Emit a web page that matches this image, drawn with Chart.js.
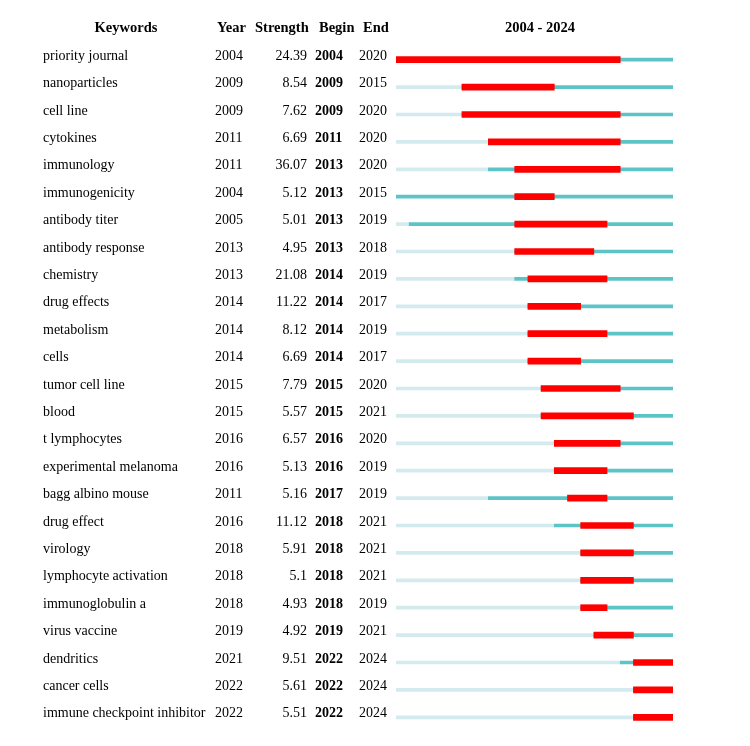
<!DOCTYPE html>
<html>
<head>
<meta charset="utf-8">
<script src="https://cdn.jsdelivr.net/npm/chart.js"></script>
<style>
  html, body { margin: 0; padding: 0; background: #fff; }
  #wrap { width: 750px; height: 746px; position: relative; }
</style>
</head>
<body>
<div id="wrap"><canvas id="Chart"></canvas></div>
<script>
// keyword burst table
var keywords = ["priority journal", "nanoparticles", "cell line", "cytokines", "immunology",
    "immunogenicity", "antibody titer", "antibody response", "chemistry", "drug effects",
    "metabolism", "cells", "tumor cell line", "blood", "t lymphocytes", "experimental melanoma",
    "bagg albino mouse", "drug effect", "virology", "lymphocyte activation", "immunoglobulin a",
    "virus vaccine", "dendritics", "cancer cells", "immune checkpoint inhibitor"];
var years = [2004, 2009, 2009, 2011, 2011, 2004, 2005, 2013, 2013, 2014, 2014, 2014, 2015,
    2015, 2016, 2016, 2011, 2016, 2018, 2018, 2018, 2019, 2021, 2022, 2022];
var strengths = [24.39, 8.54, 7.62, 6.69, 36.07, 5.12, 5.01, 4.95, 21.08, 11.22, 8.12, 6.69,
    7.79, 5.57, 6.57, 5.13, 5.16, 11.12, 5.91, 5.1, 4.93, 4.92, 9.51, 5.61, 5.51];
var begins = [2004, 2009, 2009, 2011, 2013, 2013, 2013, 2013, 2014, 2014, 2014, 2014, 2015,
    2015, 2016, 2016, 2017, 2018, 2018, 2018, 2018, 2019, 2022, 2022, 2022];
var ends = [2020, 2015, 2020, 2020, 2020, 2015, 2019, 2018, 2019, 2017, 2019, 2017, 2020,
    2021, 2020, 2019, 2019, 2021, 2021, 2021, 2019, 2021, 2024, 2024, 2024];
var firstYear = 2004;
var lastYear = 2024;

var serif = "'Liberation Serif', 'Times New Roman', serif";

// left columns drawn next to each bar row
var tablePlugin = {
    id: 'table',
    afterDraw: function (chart) {
        var ctx = chart.ctx;
        var y = chart.scales.y;
        ctx.save();
        ctx.fillStyle = '#000';
        ctx.textBaseline = 'alphabetic';

        ctx.font = 'bold 14.5px ' + serif;
        ctx.textAlign = 'center';
        ctx.fillText('Keywords', 126, 32);
        ctx.fillText(firstYear + ' - ' + lastYear, 540, 32);
        ctx.textAlign = 'left';
        ctx.fillText('Year', 217, 32);
        ctx.fillText('Strength', 255, 32);
        ctx.fillText('Begin', 319, 32);
        ctx.fillText('End', 363, 32);

        for (var i = 0; i < keywords.length; i++) {
            var py = y.getPixelForValue(i);
            ctx.font = '14px ' + serif;
            ctx.textAlign = 'left';
            ctx.fillText(keywords[i], 43, py);
            ctx.fillText(String(years[i]), 215, py);
            ctx.fillText(String(ends[i]), 359, py);
            ctx.textAlign = 'right';
            ctx.fillText(String(strengths[i]), 307, py);
            ctx.font = 'bold 14px ' + serif;
            ctx.textAlign = 'left';
            ctx.fillText(String(begins[i]), 315, py);
        }
        ctx.restore();
    }
};

new Chart(document.getElementById("Chart"), {
    type: 'bar',
    data: {
        labels: keywords,
        datasets: [{
                label: "burst",
                data: keywords.map(function (k, i) { return [begins[i], ends[i] + 1]; }),
                backgroundColor: "#ff0000",
                barThickness: 6,
                grouped: false
        }, {
                label: "active",
                data: keywords.map(function (k, i) { return [years[i], lastYear + 1]; }),
                backgroundColor: "#5cc4c7",
                barThickness: 3,
                grouped: false
        }, {
                label: "before",
                data: keywords.map(function (k, i) { return [firstYear, years[i]]; }),
                backgroundColor: "#d3ebee",
                barThickness: 3,
                grouped: false
        }
                  ]
    },
    options: {
        indexAxis: 'y',
        responsive: true,
        maintainAspectRatio: false,
        animation: false,
        layout: {
            padding: { left: 396, right: 77, top: 46, bottom: 15 }
        },
        scales: {
            x: { type: 'linear', min: firstYear, max: lastYear + 1, display: false },
            y: { display: false, offset: true }
        },
        plugins: {
            legend: { display: false },
            tooltip: { enabled: false }
        }
    },
    plugins: [tablePlugin]
});
</script>
</body>
</html>
